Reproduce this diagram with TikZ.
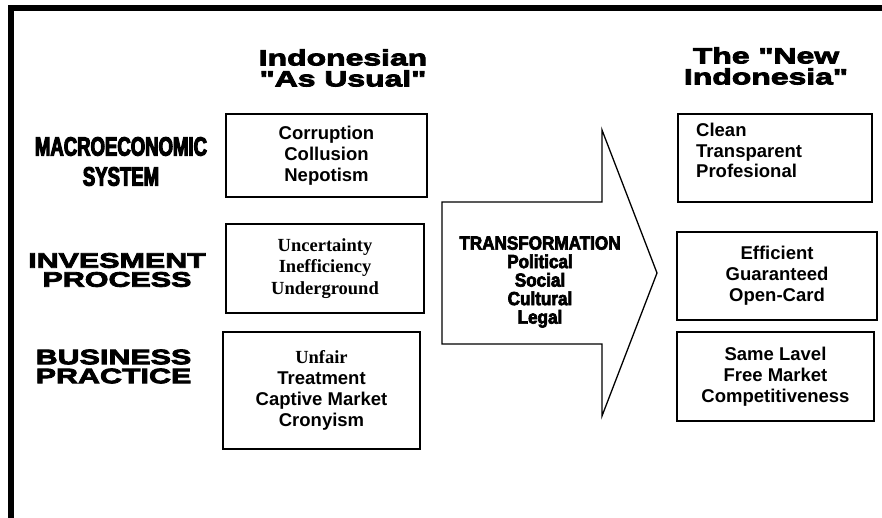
\documentclass[tikz,border=0pt]{standalone}
\usepackage{fontspec}
\setmainfont{Liberation Sans}
\newfontfamily\widefont{Liberation Sans}[FakeStretch=1.45,FakeBold=4]
\newfontfamily\condfont{Liberation Sans}[FakeStretch=0.7,FakeBold=4]
\newfontfamily\heavyfont{Liberation Sans}[FakeStretch=0.9,FakeBold=3.5]
\newfontfamily\timesf{Liberation Serif}
\begin{document}
\begin{tikzpicture}[x=1pt,y=-1pt,
  box/.style={draw,line width=1.8pt,inner sep=0pt,align=center,
    font=\fontsize{18.5}{21}\selectfont\bfseries},
  headtxt/.style={inner sep=0pt,align=center,
    font=\widefont\fontsize{22}{21}\selectfont\bfseries},
  sidetxt/.style={inner sep=0pt,align=center,
    font=\widefont\fontsize{21}{19}\selectfont\bfseries},
  condtxt/.style={inner sep=0pt,align=center,
    font=\condfont\fontsize{26.5}{30}\selectfont\bfseries},
  transtxt/.style={inner sep=0pt,align=center,
    font=\heavyfont\fontsize{19}{18.5}\selectfont\bfseries},
  arrowshape/.style={draw,line width=1.3pt,line join=miter}]
\useasboundingbox (0,0) rectangle (882,518);
% frame
\draw[line width=6pt,line join=miter] (11,518) -- (11,8.5) -- (882,8.5);
% headings
\node[headtxt] (h1) at (343,68) {Indonesian\\"As Usual"};
\node[headtxt] (h2) at (766,66) {The "New\\Indonesia"};
% side labels
\node[condtxt] (s1) at (121,161.5) {MACROECONOMIC\\SYSTEM};
\node[sidetxt] (s2) at (117,270) {INVESMENT\\PROCESS};
\node[sidetxt] (s3) at (113.5,366.5) {BUSINESS\\PRACTICE};
% left boxes
\node[box,minimum width=201pt,minimum height=83pt] (l1) at (326.5,155.5)
  {Corruption\\Collusion\\Nepotism};
\node[box,minimum width=198pt,minimum height=89pt,
  font=\timesf\fontsize{18.5}{21.5}\selectfont\bfseries] (l2) at (325,268.5)
  {Uncertainty\\Inefficiency\\Underground};
\node[box,minimum width=197pt,minimum height=117pt] (l3) at (321.5,390.5)
  {{\timesf Unfair}\\Treatment\\Captive Market\\Cronyism};
% arrow
\draw[arrowshape] (442,202) -- (602,202) -- (602,130) -- (657,273)
  -- (602,416) -- (602,344) -- (442,344) -- cycle;
\node[transtxt] (t) at (540,282) {TRANSFORMATION\\Political\\Social\\Cultural\\Legal};
% right boxes
\node[box,minimum width=194pt,minimum height=88pt] (r1) at (775,158) {};
\node[inner sep=0pt,align=left,anchor=north west,
  font=\fontsize{18.5}{20.5}\selectfont\bfseries] (r1t) at (696,123)
  {Clean\\Transparent\\Profesional};
\node[box,minimum width=200pt,minimum height=88pt] (r2) at (777,276)
  {Efficient\\Guaranteed\\Open-Card};
\node[box,minimum width=197pt,minimum height=89pt] (r3) at (775.5,376.5)
  {Same Lavel\\Free Market\\Competitiveness};
\end{tikzpicture}
\end{document}
